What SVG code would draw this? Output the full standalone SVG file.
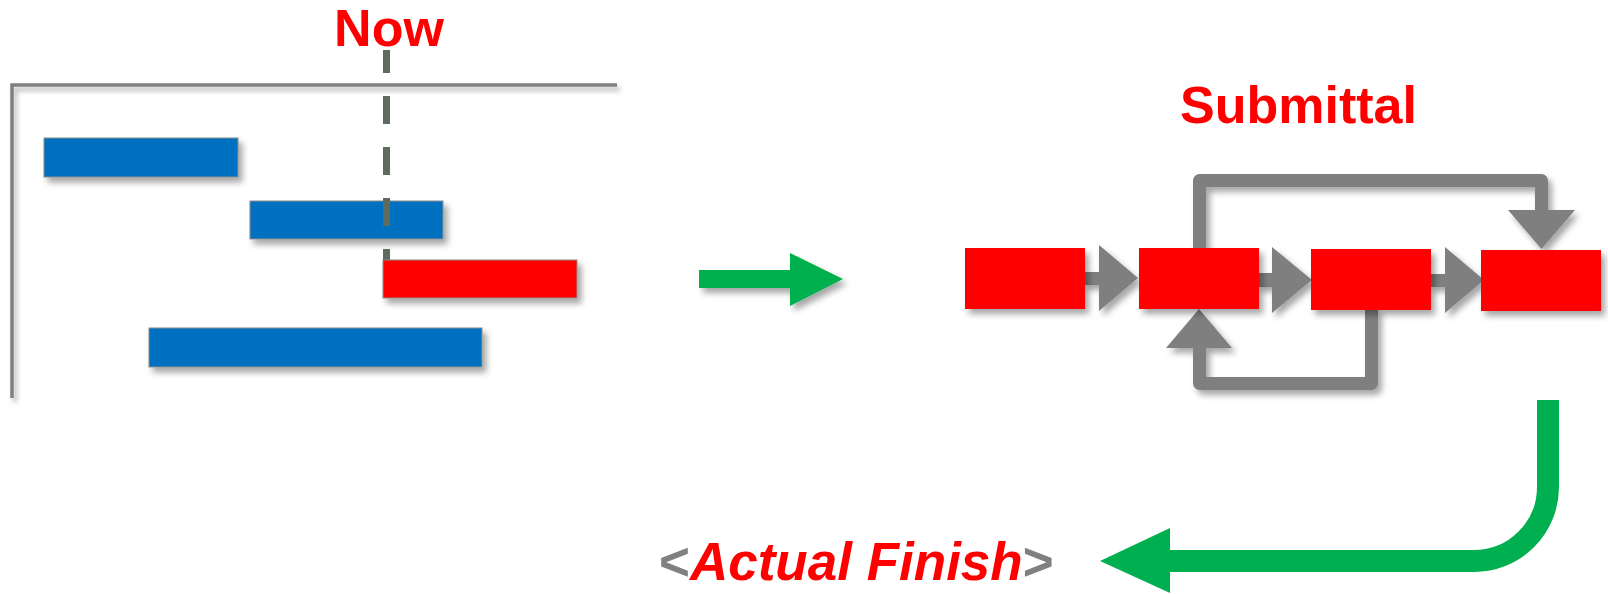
<svg xmlns="http://www.w3.org/2000/svg" width="1608" height="594" viewBox="0 0 1608 594">
<defs>
<filter id="sh" x="-20%" y="-20%" width="150%" height="160%">
<feDropShadow dx="4" dy="5" stdDeviation="3" flood-color="#000" flood-opacity="0.35"/>
</filter>
<filter id="shl" x="-5%" y="-50%" width="110%" height="300%">
<feDropShadow dx="3" dy="4" stdDeviation="2.5" flood-color="#000" flood-opacity="0.3"/>
</filter>
</defs>
<style>
.bar{fill:#0070C0;stroke:#8C8C8C;stroke-width:1;filter:url(#sh)}
.late{fill:#FF0000;stroke:#8C8C8C;stroke-width:1;filter:url(#sh)}
.box{fill:#FF0000;filter:url(#sh)}
.axis{fill:none;stroke:#808080;stroke-width:3.5;filter:url(#shl)}
.gline{fill:none;stroke:#7F7F7F;stroke-width:13;stroke-linejoin:round}
.ghead{fill:#7F7F7F}
.green{fill:#00B050}
.gstroke{fill:none;stroke:#00B050;stroke-width:22}
.lbl{font-family:"Liberation Sans",Arial,sans-serif;font-weight:bold;fill:#FF0000}
</style>
<rect width="1608" height="594" fill="#FFFFFF"/>

<g id="gantt">
<path class="axis" d="M12,398 V85 H617"/>
<g id="task1"><rect class="bar" x="44" y="138" width="194" height="39"/></g>
<g id="task2"><rect class="bar" x="250" y="201" width="193" height="38"/></g>
<g id="task4"><rect class="bar" x="149" y="328" width="333" height="39"/></g>
<g id="now-line"><line x1="386.5" y1="50" x2="386.5" y2="262" stroke="#5E6B5E" stroke-width="7" stroke-dasharray="28 23" stroke-dashoffset="5"/></g>
<g id="task3"><rect class="late" x="383" y="260" width="194" height="38"/></g>
<g id="now-label"><text class="lbl" x="389" y="46" font-size="52" text-anchor="middle">Now</text></g>
</g>

<g id="connectors">
<g filter="url(#sh)">
<path class="green" d="M699,270 H790 V253 L843,279 L790,306 V288 H699 Z"/>
</g>
<g filter="url(#sh)">
<rect class="ghead" x="1083" y="272" width="18" height="13"/>
<polygon class="ghead" points="1099,245 1138,278 1099,311"/>
<rect class="ghead" x="1257" y="273" width="17" height="14"/>
<polygon class="ghead" points="1272,247 1312,280 1272,313"/>
<rect class="ghead" x="1429" y="274" width="18" height="13"/>
<polygon class="ghead" points="1445,247 1484,280 1445,313"/>
<path class="gline" d="M1199.5,250 V180.5 H1541.5 V212"/>
<polygon class="ghead" points="1508,210 1575,210 1541.5,249"/>
<path class="gline" d="M1371.5,308 V383.5 H1199.5 V346"/>
<polygon class="ghead" points="1166,348 1232,348 1199,309"/>
</g>
<g>
<path class="gstroke" d="M1548,400 V487 A74,74 0 0 1 1474,561 H1168"/>
<polygon class="green" points="1170,528 1100,561 1170,593"/>
</g>
</g>

<g id="step1"><rect class="box" x="965" y="248" width="120" height="61"/></g>
<g id="step2"><rect class="box" x="1139" y="248" width="120" height="61"/></g>
<g id="step3"><rect class="box" x="1311" y="249" width="120" height="61"/></g>
<g id="step4"><rect class="box" x="1481" y="250" width="120" height="61"/></g>

<g id="submittal-label"><text class="lbl" x="1180" y="123" font-size="52">Submittal</text></g>

<g id="actual-finish-label">
<text class="lbl" x="659" y="580" font-size="53"><tspan fill="#808080">&lt;</tspan><tspan font-style="italic">Actual Finish</tspan><tspan fill="#808080">&gt;</tspan></text>
</g>
</svg>
